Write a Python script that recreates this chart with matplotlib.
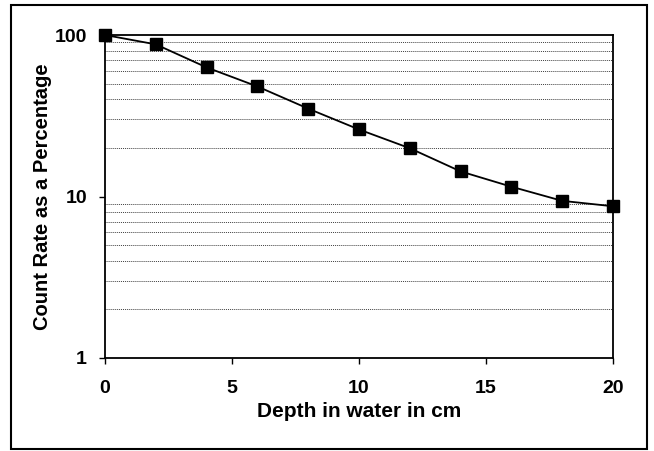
import numpy as np
from matplotlib import pyplot as plt
from matplotlib.patches import Rectangle
from matplotlib.ticker import FixedLocator, NullFormatter

depth = [0, 2, 4, 6, 8, 10, 12, 14, 16, 18, 20]
count_pct = [100, 87.5, 63, 48, 35, 26, 19.9, 14.3, 11.5, 9.4, 8.7]
x_ticks = [0, 5, 10, 15, 20]
y_ticks = [1, 10, 100]

plt.rcParams['font.family'] = ['Liberation Sans', 'DejaVu Sans']
plt.rcParams['font.weight'] = 'bold'

fig = plt.figure(figsize=(6.54, 4.51), dpi=100)
fig.patches.append(Rectangle((11/654, 1 - 449/451), 636/654, 444/451,
                             transform=fig.transFigure, fill=False,
                             edgecolor='black', linewidth=1.5))

ax = fig.add_axes([105/654, 1 - 358/451, 508/654, 323/451])
ax.set_yscale('log')
ax.set_xlim(0, 20)
ax.set_ylim(1, 100)

minor = [m * 10**e for e in (0, 1) for m in range(2, 10)] + [10]
ax.yaxis.set_minor_locator(FixedLocator(minor))
ax.yaxis.set_minor_formatter(NullFormatter())
ax.grid(True, which='minor', axis='y', color='0.25', linestyle=(0, (1, 1)), linewidth=0.7)
ax.tick_params(axis='y', which='minor', length=0)

ax.plot(depth, count_pct, 'k-', linewidth=1.3, marker='s', markersize=8,
        clip_on=False, zorder=5)

ax.set_xticks(x_ticks)
ax.set_xticklabels([str(t) for t in x_ticks])
ax.set_yticks(y_ticks)
ax.set_yticklabels([str(t) for t in y_ticks])
ax.tick_params(axis='both', which='major', direction='out', length=4,
               width=1, labelsize=14)
ax.tick_params(axis='x', pad=12)
ax.tick_params(axis='y', pad=9)
for s in ax.spines.values():
    s.set_linewidth(1.3)

ax.set_xlabel("Depth in water in cm", fontsize=15, fontweight='bold')
ax.set_ylabel("Count Rate as a Percentage", fontsize=14.5, fontweight='bold')
ax.xaxis.set_label_coords(0.5, -0.135)
ax.yaxis.set_label_coords(-0.104, 0.5)

plt.savefig("out.png", dpi=100)
plt.close()
